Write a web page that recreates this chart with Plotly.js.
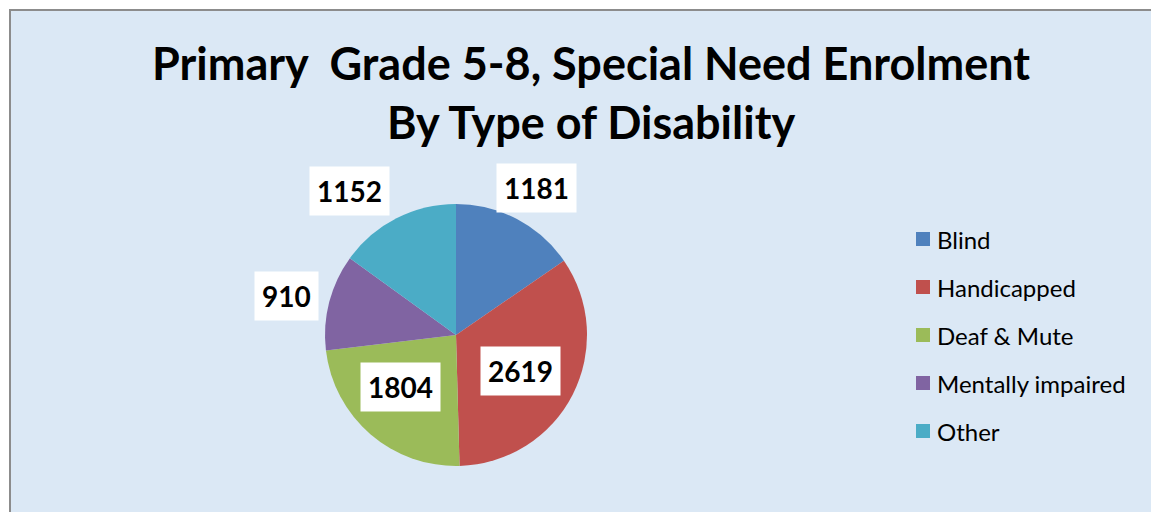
<!DOCTYPE html>
<html><head><meta charset="utf-8">
<script src="https://cdn.plot.ly/plotly-3.0.1.min.js"></script>
<style>html,body{margin:0;padding:0;background:#fff}</style>
</head><body>
<div id="chart" style="width:1151px;height:512px"></div>
<script>
// ---- data ----
const labels = ["Blind", "Handicapped", "Deaf & Mute", "Mentally impaired", "Other"];
const values = [1181, 2619, 1804, 910, 1152];
const colors = ["#4F81BD", "#C0504D", "#9BBB59", "#8064A2", "#4BACC6"];

// ---- layout constants ----
const W = 1151, H = 512;
const CX = 456, CY = 335, R = 131;
const labelRadius = [1.28, 0.565, 0.58, 1.33, 1.37];
const labelAngleNudge = [1, 2, 6, -1.6, -9.4];
const fontFam = "Lato, 'Open Sans', sans-serif";

const total = values.reduce((a, b) => a + b, 0);
const annotations = [];
let cum = 0;
values.forEach((v, i) => {
  const mid = (cum + v / 2) / total * 360 + labelAngleNudge[i];
  cum += v;
  const th = mid * Math.PI / 180;
  const px = CX + Math.sin(th) * R * labelRadius[i];
  const py = CY - Math.cos(th) * R * labelRadius[i];
  annotations.push({
    xref: "paper", yref: "paper", x: px / W, y: 1 - py / H,
    xanchor: "center", yanchor: "middle", showarrow: false,
    text: String(v), bgcolor: "#ffffff", borderpad: 7,
    font: {family: fontFam, size: 28, color: "#000", weight: 700}
  });
});

// custom legend
const LX = 916, LY0 = 239, LSTEP = 48, SQ = 14;
const shapes = [{
  type: "rect", xref: "paper", yref: "paper", layer: "below",
  x0: 10 / W, x1: 1.05, y0: -0.05, y1: 1 - 10 / H,
  fillcolor: "#dbe8f5", line: {color: "#8c8c8c", width: 2}
}];
labels.forEach((lab, i) => {
  const y = LY0 + i * LSTEP;
  shapes.push({
    type: "rect", xref: "paper", yref: "paper",
    x0: LX / W, x1: (LX + SQ) / W, y0: 1 - (y + SQ / 2) / H, y1: 1 - (y - SQ / 2) / H,
    fillcolor: colors[i], line: {width: 0}
  });
  annotations.push({
    xref: "paper", yref: "paper", x: (LX + SQ + 5) / W, y: 1 - y / H,
    xanchor: "left", yanchor: "middle", showarrow: false,
    text: lab, font: {family: fontFam, size: 24, color: "#000"}
  });
});

const data = [{
  type: "pie", labels: labels, values: values, sort: false,
  direction: "clockwise", rotation: 0,
  marker: {colors: colors, line: {width: 0}},
  textinfo: "none", hoverinfo: "label+value",
  domain: {x: [(CX - R) / W, (CX + R) / W], y: [(H - CY - R) / H, (H - CY + R) / H]},
  showlegend: false
}];

const layout = {
  width: W, height: H,
  margin: {l: 0, r: 0, t: 0, b: 0},
  paper_bgcolor: "#ffffff",
  showlegend: false,
  title: {
    text: "Primary\u00a0 Grade 5-8, Special Need Enrolment<br>By Type of Disability",
    x: 591 / W, xanchor: "center", y: 1 - 80 / H, yanchor: "top", xref: "paper", yref: "container",
    font: {family: fontFam, size: 45, color: "#000", weight: 700}
  },
  shapes: shapes,
  annotations: annotations
};

Plotly.newPlot("chart", data, layout, {displayModeBar: false, staticPlot: true});
</script>
</body></html>
